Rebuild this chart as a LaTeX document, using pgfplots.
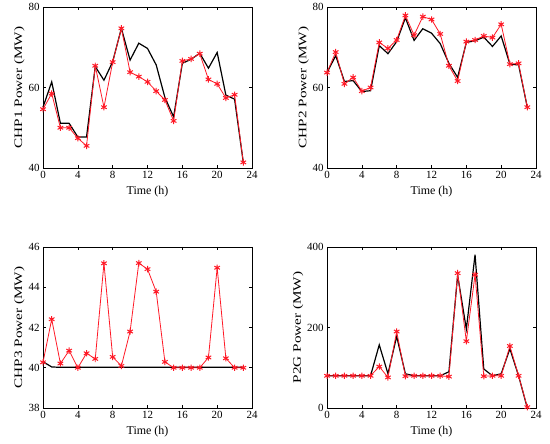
\documentclass[border=0pt]{standalone}
\usepackage{fontspec}
\setmainfont{Liberation Serif}
\usepackage{pgfplots}
\pgfplotsset{compat=1.18}
\definecolor{mred}{rgb}{1,0.1,0.15}
\newcommand{\ylab}[1]{\scalebox{1.33}[1]{#1}}
\pgfplotsset{
  panel/.style={
    scale only axis, width=209bp, height=161bp, anchor=south west,
    xmin=0, xmax=24, xtick={0,4,...,24},
    tick style={black, line width=0.5pt}, major tick length=3bp,
    tick align=inside,
    axis line style={line width=0.6pt},
    /pgf/number format/assume math mode=true,
    ticklabel style={font=\fontsize{11}{13}\selectfont},
    xlabel style={font=\fontsize{12}{14}\selectfont, yshift=0bp},
    ylabel style={font=\fontsize{11.5}{13}\selectfont, yshift=-3bp},
    xlabel={Time (h)},
    clip=false,
  },
  blk/.style={black, line width=1.2pt, no marks},
  rd/.style={mred, line width=0.8pt, mark=asterisk, mark size=3.2bp, mark options={line width=1pt}},
}
\begin{document}
\begin{tikzpicture}[x=1bp,y=1bp]
\useasboundingbox (0,0) rectangle (550,444);
% CHP1
\begin{axis}[panel, at={(43bp,276bp)}, ymin=40, ymax=80, ytick={40,60,80}, ylabel={\ylab{CHP1 Power (MW)}}]
\addplot[blk] coordinates {(0,55.1)(1,61.4)(2,51.1)(3,51.1)(4,47.7)(5,47.7)(6,65.2)(7,61.8)(8,66.4)(9,74.7)(10,66.8)(11,71.0)(12,69.7)(13,65.6)(14,57.5)(15,52.7)(16,66.0)(17,67.0)(18,68.5)(19,64.8)(20,68.7)(21,58.1)(22,57.1)(23,41.4)};
\addplot[rd] coordinates {(0,54.6)(1,58.5)(2,50.0)(3,50.0)(4,47.4)(5,45.5)(6,65.4)(7,55.1)(8,66.3)(9,74.7)(10,63.8)(11,62.7)(12,61.4)(13,59.1)(14,56.9)(15,51.7)(16,66.6)(17,67.1)(18,68.4)(19,62.0)(20,60.9)(21,57.4)(22,58.2)(23,41.4)};
\end{axis}
% CHP2
\begin{axis}[panel, at={(327bp,276bp)}, ymin=40, ymax=80, ytick={40,60,80}, ylabel={\ylab{CHP2 Power (MW)}}]
\addplot[blk] coordinates {(0,63.7)(1,67.9)(2,61.5)(3,61.7)(4,59.0)(5,59.2)(6,70.4)(7,68.4)(8,71.4)(9,77.3)(10,71.7)(11,74.6)(12,73.5)(13,70.9)(14,66.0)(15,62.5)(16,71.2)(17,71.6)(18,72.5)(19,70.2)(20,72.8)(21,65.8)(22,65.6)(23,55.1)};
\addplot[rd] coordinates {(0,63.7)(1,68.8)(2,60.9)(3,62.5)(4,59.1)(5,60.0)(6,71.2)(7,69.7)(8,71.8)(9,77.9)(10,73.0)(11,77.6)(12,76.9)(13,73.3)(14,65.4)(15,61.6)(16,71.4)(17,71.8)(18,72.8)(19,72.4)(20,75.7)(21,65.8)(22,66.0)(23,55.1)};
\end{axis}
% CHP3
\begin{axis}[panel, at={(43bp,36bp)}, ymin=38, ymax=46, ytick={38,40,...,46}, ylabel={\ylab{CHP3 Power (MW)}}]
\addplot[blk] coordinates {(0,40.3)(1,40.04)(2,40.02)(3,40.02)(4,40.02)(5,40.02)(6,40.02)(7,40.02)(8,40.02)(9,40.02)(10,40.02)(11,40.02)(12,40.02)(13,40.02)(14,40.02)(15,40.02)(16,40.02)(17,40.02)(18,40.02)(19,40.02)(20,40.02)(21,40.02)(22,40.02)(23,40.02)};
\addplot[rd] coordinates {(0,40.27)(1,42.41)(2,40.21)(3,40.85)(4,40.0)(5,40.72)(6,40.44)(7,45.19)(8,40.54)(9,40.09)(10,41.80)(11,45.20)(12,44.90)(13,43.78)(14,40.29)(15,40.0)(16,40.0)(17,40.0)(18,40.0)(19,40.51)(20,44.97)(21,40.47)(22,40.0)(23,40.0)};
\end{axis}
% P2G
\begin{axis}[panel, at={(327bp,36bp)}, ymin=0, ymax=400, ytick={0,200,400}, ylabel={\ylab{P2G Power (MW)}}]
\addplot[blk] coordinates {(0,80)(1,80)(2,80)(3,80)(4,80)(5,80)(6,157)(7,85)(8,178)(9,85)(10,80)(11,80)(12,80)(13,80)(14,90)(15,330)(16,196)(17,381)(18,97)(19,80)(20,85)(21,147)(22,80)(23,0)};
\addplot[rd] coordinates {(0,80)(1,80)(2,80)(3,80)(4,80)(5,80)(6,103)(7,76)(8,190)(9,79)(10,80)(11,80)(12,80)(13,80)(14,78)(15,335)(16,166)(17,331)(18,79)(19,80)(20,80)(21,154)(22,80)(23,2)};
\end{axis}
\end{tikzpicture}
\end{document}
